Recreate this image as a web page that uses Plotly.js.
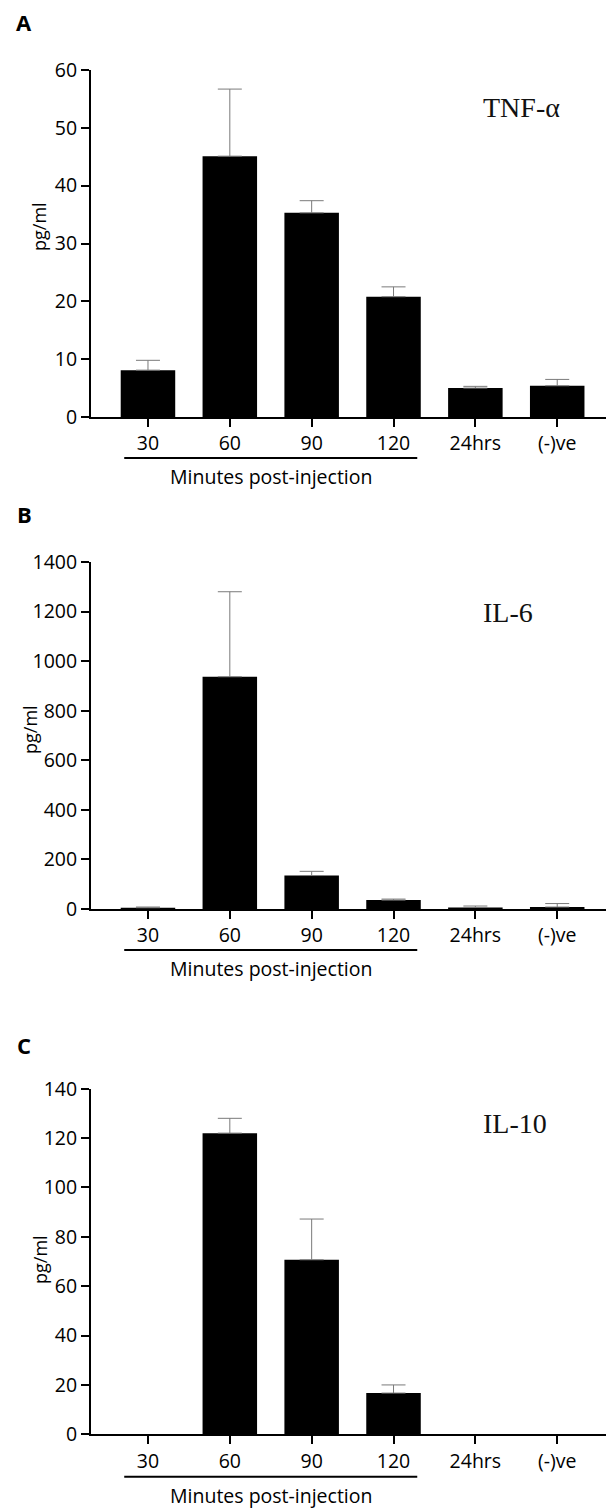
<!DOCTYPE html>
<html>
<head>
<meta charset="utf-8">
<script src="https://cdn.plot.ly/plotly-3.0.1.min.js"></script>
<style>
  html, body { margin: 0; padding: 0; background: #ffffff; }
  #chart { width: 606px; height: 1509px; }
</style>
</head>
<body>
<div id="chart"></div>
<script>
// Sample groups (x categories)
const groups = ['30', '60', '90', '120', '24hrs', '(-)ve'];

// TNF-α (pg/ml): mean and upper error
const tnfMean = [8.1, 45.1, 35.3, 20.8, 5.0, 5.4];
const tnfErr  = [1.7, 11.6, 2.1, 1.7, 0.3, 1.1];

// IL-6 (pg/ml)
const il6Mean = [5, 937, 135, 36, 6, 8];
const il6Err  = [3, 343, 17, 4, 6, 14];

// IL-10 (pg/ml); NaN = no error bar for groups with nothing measured
const il10Mean = [0, 122, 70.7, 16.7, 0, 0];
const il10Err  = [NaN, 6, 16.5, 3.3, NaN, NaN];

// Axis ranges and tick spacing per panel
const yMax  = [60, 1400, 140];
const yStep = [10, 200, 20];
const panelNames = ['TNF-α', 'IL-6', 'IL-10'];
const panelLetters = ['A', 'B', 'C'];
const groupLabel = 'Minutes post-injection';
const yLabel = 'pg/ml';

const W = 606, H = 1509;
// pixel geometry of each panel: [top of y axis, x axis]
const panelPx = [[70, 417], [562, 909], [1088.7, 1434.3]];
const axisLeftPx = 91;
const xRange = [-0.696, 5.596];

const px = v => v / W;
const py = v => 1 - v / H;

const means = [tnfMean, il6Mean, il10Mean];
const errs  = [tnfErr, il6Err, il10Err];

const traces = means.map((m, i) => ({
  type: 'bar',
  x: groups,
  y: m,
  xaxis: i === 0 ? 'x' : 'x' + (i + 1),
  yaxis: i === 0 ? 'y' : 'y' + (i + 1),
  marker: { color: '#000000', line: { width: 0 } },
  error_y: {
    type: 'data',
    symmetric: false,
    array: errs[i],
    arrayminus: errs[i].map(e => (Number.isNaN(e) ? NaN : 0)),
    color: '#7a7a7a',
    thickness: 1,
    width: 12
  },
  hoverinfo: 'skip'
}));

const tickFont = { family: 'Open Sans, sans-serif', size: 19.5, color: '#000000' };

const layout = {
  width: W,
  height: H,
  margin: { l: 0, r: 0, t: 0, b: 0 },
  paper_bgcolor: '#ffffff',
  plot_bgcolor: '#ffffff',
  showlegend: false,
  bargap: 0.334,
  annotations: [],
  shapes: []
};

panelPx.forEach((p, i) => {
  const sfx = i === 0 ? '' : String(i + 1);
  layout['xaxis' + sfx] = {
    type: 'category',
    domain: [px(axisLeftPx), 1],
    range: xRange,
    anchor: 'y' + sfx,
    showline: true,
    linewidth: 2,
    linecolor: '#000000',
    ticks: 'outside',
    ticklen: 8,
    tickwidth: 2,
    tickcolor: '#000000',
    tickfont: tickFont,
    showgrid: false,
    zeroline: false,
    fixedrange: true
  };
  layout['yaxis' + sfx] = {
    domain: [py(p[1]), py(p[0])],
    range: [0, yMax[i]],
    dtick: yStep[i],
    tick0: 0,
    anchor: 'x' + sfx,
    showline: true,
    linewidth: 2,
    linecolor: '#000000',
    ticks: 'outside',
    ticklen: 8,
    tickwidth: 2,
    tickcolor: '#000000',
    tickfont: tickFont,
    showgrid: false,
    zeroline: false,
    fixedrange: true
  };

  // panel letter
  layout.annotations.push({
    xref: 'paper', yref: 'paper',
    x: px(24), y: py([22, 514, 1045][i]),
    xanchor: 'center', yanchor: 'middle',
    text: '<b>' + panelLetters[i] + '</b>',
    showarrow: false,
    font: { family: 'Open Sans, sans-serif', size: 22, color: '#000000' }
  });

  // cytokine name
  layout.annotations.push({
    xref: 'paper', yref: 'paper',
    x: px(481), y: py([107, 612, 1123][i]),
    xanchor: 'left', yanchor: 'middle',
    text: panelNames[i],
    showarrow: false,
    font: { family: 'Liberation Serif, Times New Roman, serif', size: 28, color: '#111111' }
  });

  // y axis label
  layout.annotations.push({
    xref: 'paper', yref: 'paper',
    x: px([39, 30, 40][i]), y: py([227, 730, 1259][i]),
    xanchor: 'center', yanchor: 'middle',
    textangle: -90,
    text: yLabel,
    showarrow: false,
    font: { family: 'Open Sans, sans-serif', size: 18, color: '#000000' }
  });

  // bracket under the timed groups and its caption
  layout.shapes.push({
    type: 'line',
    xref: 'x' + sfx, yref: 'paper',
    x0: -0.29, x1: 3.29,
    y0: py([458, 950, 1476.7][i]), y1: py([458, 950, 1476.7][i]),
    line: { color: '#000000', width: 2 }
  });
  layout.annotations.push({
    xref: 'x' + sfx, yref: 'paper',
    x: 1.5, y: py([477, 968, 1495][i]),
    xanchor: 'center', yanchor: 'middle',
    text: groupLabel,
    showarrow: false,
    font: { family: 'Open Sans, sans-serif', size: 19.5, color: '#000000' }
  });
});

Plotly.newPlot('chart', traces, layout, { staticPlot: true, displayModeBar: false });
</script>
</body>
</html>
